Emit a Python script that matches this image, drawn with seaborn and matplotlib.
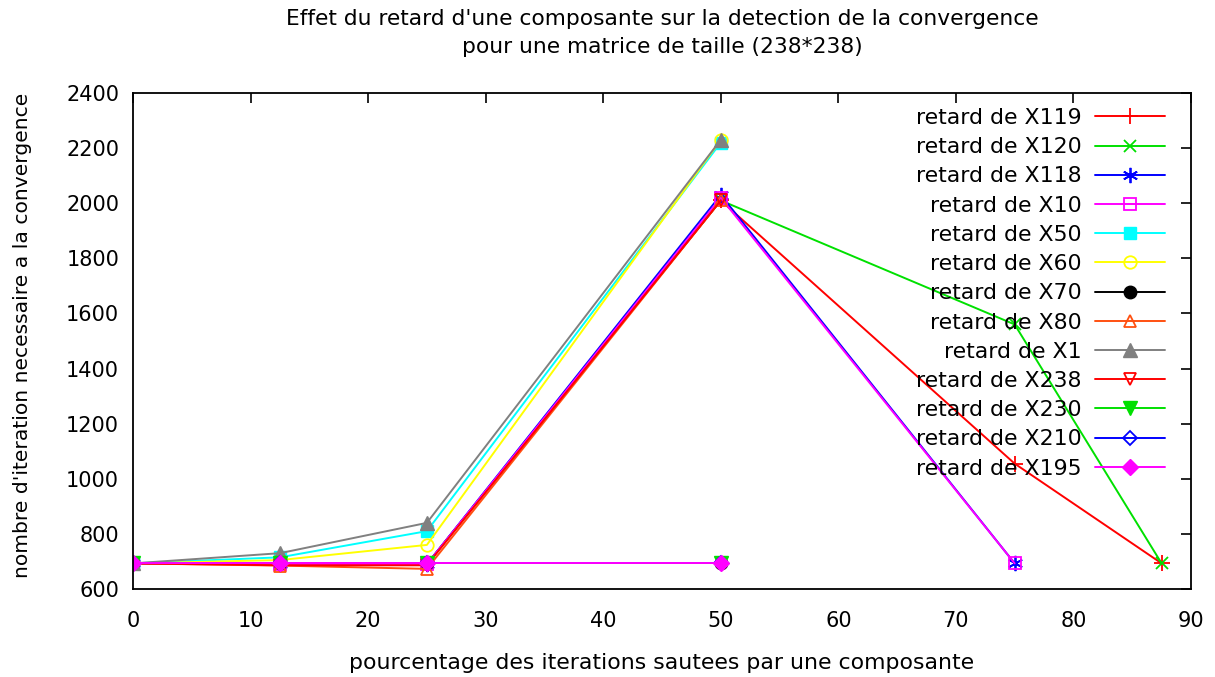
import matplotlib
matplotlib.use("Agg")
import matplotlib.pyplot as plt
import seaborn as sns
import pandas as pd

# Percentage of iterations skipped by one component
pct = [0, 12.5, 25, 50, 75, 87.5]

# Iterations needed to detect convergence, per delayed component
x119 = [693, 690, 690, 2010, 1055, 693]
x120 = [693, 690, 690, 2010, 1560, 693]
x118 = [693, 690, 690, 2030, 693]
x10 = [693, 690, 690, 2020, 693]
x50 = [693, 715, 810, 2220]
x60 = [693, 705, 760, 2230]
x70 = [693, 693, 693, 693]
x80 = [693, 685, 673, 2010]
x1 = [693, 730, 840, 2230]
x238 = [693, 686, 686, 2010]
x230 = [693, 693, 693, 693]
x210 = [693, 693, 693, 693]
x195 = [693, 693, 693, 693]

labels = ["retard de X119", "retard de X120", "retard de X118", "retard de X10",
          "retard de X50", "retard de X60", "retard de X70", "retard de X80",
          "retard de X1", "retard de X238", "retard de X230", "retard de X210",
          "retard de X195"]
values = [x119, x120, x118, x10, x50, x60, x70, x80, x1, x238, x230, x210, x195]

asterisk = (6, 2, 0)
styles = [
    dict(color="#ff0000", marker="+", mfc="#ff0000", ms=11, mew=1.3),
    dict(color="#00e000", marker="x", mfc="#00e000", ms=9, mew=1.3),
    dict(color="#0000ff", marker=asterisk, mfc="#0000ff", ms=11, mew=1.3),
    dict(color="#ff00ff", marker="s", mfc="none", ms=9, mew=1.3),
    dict(color="#00ffff", marker="s", mfc="#00ffff", ms=9, mew=1.0),
    dict(color="#ffff00", marker="o", mfc="none", ms=9, mew=1.3),
    dict(color="#000000", marker="o", mfc="#000000", ms=9, mew=1.0),
    dict(color="#ff5010", marker="^", mfc="none", ms=9, mew=1.3),
    dict(color="#808080", marker="^", mfc="#808080", ms=10, mew=1.0),
    dict(color="#ff0000", marker="v", mfc="none", ms=9, mew=1.3),
    dict(color="#00e000", marker="v", mfc="#00e000", ms=10, mew=1.0),
    dict(color="#0000ff", marker="D", mfc="none", ms=7, mew=1.3),
    dict(color="#ff00ff", marker="D", mfc="#ff00ff", ms=8, mew=1.0),
]

rows = []
for lab, vals in zip(labels, values):
    for p, v in zip(pct, vals):
        rows.append({"serie": lab, "pourcentage": p, "iterations": v})
df = pd.DataFrame(rows)

sns.set_theme(style="white")
plt.rcParams["font.family"] = ["DejaVu Sans"]
plt.rcParams["text.color"] = "black"
plt.rcParams["axes.labelcolor"] = "black"

W, H = 1215, 677
L, R, T, B = 133, 1191, 93, 589
fig = plt.figure(figsize=(W / 100, H / 100), dpi=100)
ax = fig.add_axes([L / W, 1 - B / H, (R - L) / W, (B - T) / H])

for lab, st in zip(labels, styles):
    sub = df[df["serie"] == lab]
    sns.lineplot(data=sub, x="pourcentage", y="iterations", ax=ax, sort=False,
                 color=st["color"], marker=st["marker"], markersize=st["ms"],
                 markerfacecolor=st["mfc"], markeredgecolor=st["color"],
                 markeredgewidth=st["mew"], linewidth=1.4, label=lab)

ax.set_xlim(0, 90)
ax.set_ylim(600, 2400)
ax.set_xticks(range(0, 91, 10))
ax.set_yticks(range(600, 2401, 200))
ax.tick_params(direction="in", length=7, width=1.2, top=True, right=True,
               labelsize=15, colors="black")
ax.tick_params(axis="x", pad=15.5)
ax.tick_params(axis="y", pad=10)
for s in ax.spines.values():
    s.set_color("black")
    s.set_linewidth(1.3)

ax.set_xlabel("")
ax.set_ylabel("")
fig.text((L + R) / 2 / W, 1 - 663 / H,
         "pourcentage des iterations sautees par une composante",
         fontsize=15.8, ha="center", va="center")
fig.text(23 / W, 1 - 335 / H, "nombre d'iteration necessaire a la convergence",
         fontsize=14.6, ha="center", va="center", rotation=90)
fig.text((L + R) / 2 / W, 1 - 33 / H,
         "Effet du retard d'une composante sur la detection de la convergence\n"
         "pour une matrice de taille (238*238)",
         fontsize=15.7, ha="center", va="center", linespacing=1.45)

leg = ax.legend(loc="upper right", frameon=False, markerfirst=False,
                fontsize=15.8, handlelength=3.2, labelspacing=0.42,
                handletextpad=0.6, borderaxespad=0.0, borderpad=0.0,
                bbox_to_anchor=((1165 - L) / (R - L), (B - 108) / (B - T)))
for t in leg.get_texts():
    t.set_ha("right")
leg._legend_box.align = "right"

fig.savefig("out.png", dpi=100, facecolor="white")
